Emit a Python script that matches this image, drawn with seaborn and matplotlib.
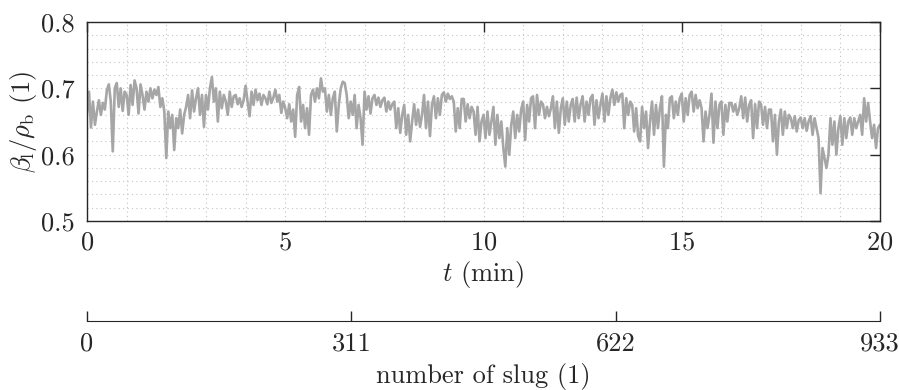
import numpy as np
import matplotlib
matplotlib.use("Agg")
import matplotlib.pyplot as plt
import seaborn as sns
import pandas as pd
from matplotlib.ticker import MultipleLocator

# beta_l / rho_b, ~0.05 min spacing
ratio_0_5 = [
    0.662, 0.695, 0.641, 0.680, 0.645,  0.665, 0.682, 0.660, 0.678, 0.668,
    0.697, 0.706, 0.680, 0.605, 0.700,  0.708, 0.672, 0.700, 0.666, 0.695,
    0.690, 0.660, 0.705, 0.675, 0.712,  0.700, 0.662, 0.706, 0.690, 0.668,
    0.695, 0.680, 0.700, 0.685, 0.698,  0.690, 0.702, 0.672, 0.685, 0.665,
    0.595, 0.665, 0.640, 0.660, 0.607,  0.655, 0.640, 0.668, 0.632, 0.660,
    0.672, 0.690, 0.655, 0.697, 0.665,  0.685, 0.700, 0.660, 0.690, 0.642,
    0.690, 0.668, 0.700, 0.717, 0.680,  0.700, 0.650, 0.695, 0.670, 0.690,
    0.680, 0.660, 0.695, 0.672, 0.688,  0.690, 0.676, 0.685, 0.672, 0.682,
    0.704, 0.680, 0.658, 0.695, 0.675,  0.698, 0.682, 0.692, 0.675, 0.690,
    0.685, 0.676, 0.695, 0.678, 0.686,  0.698, 0.680, 0.690, 0.663, 0.680,
]
ratio_5_10 = [
    0.670, 0.655, 0.676, 0.650, 0.668,  0.627, 0.690, 0.702, 0.650, 0.675,
    0.640, 0.670, 0.630, 0.690, 0.698,  0.680, 0.700, 0.685, 0.715, 0.695,
    0.700, 0.665, 0.690, 0.660, 0.685,  0.695, 0.635, 0.675, 0.700, 0.710,
    0.708, 0.690, 0.655, 0.680, 0.660,  0.690, 0.640, 0.675, 0.655, 0.615,
    0.695, 0.668, 0.688, 0.662, 0.685,  0.690, 0.675, 0.686, 0.672, 0.682,
    0.686, 0.665, 0.680, 0.668, 0.676,  0.680, 0.640, 0.670, 0.633, 0.660,
    0.675, 0.630, 0.660, 0.620, 0.650,  0.676, 0.645, 0.668, 0.642, 0.660,
    0.690, 0.640, 0.680, 0.628, 0.675,  0.688, 0.655, 0.685, 0.660, 0.690,
    0.694, 0.680, 0.692, 0.684, 0.688,  0.680, 0.635, 0.670, 0.640, 0.684,
    0.684, 0.650, 0.676, 0.655, 0.672,  0.665, 0.630, 0.672, 0.620, 0.650,
]
ratio_10_15 = [
    0.660, 0.625, 0.665, 0.630, 0.650,  0.672, 0.615, 0.660, 0.625, 0.650,
    0.610, 0.582, 0.640, 0.600, 0.645,  0.665, 0.625, 0.660, 0.635, 0.668,
    0.680, 0.622, 0.675, 0.650, 0.685,  0.688, 0.640, 0.690, 0.660, 0.680,
    0.676, 0.655, 0.672, 0.658, 0.670,  0.688, 0.640, 0.680, 0.633, 0.670,
    0.685, 0.645, 0.680, 0.650, 0.675,  0.684, 0.650, 0.686, 0.655, 0.676,
    0.688, 0.650, 0.680, 0.660, 0.685,  0.690, 0.645, 0.682, 0.655, 0.675,
    0.692, 0.650, 0.688, 0.660, 0.685,  0.698, 0.675, 0.694, 0.680, 0.690,
    0.692, 0.640, 0.685, 0.660, 0.680,  0.675, 0.635, 0.670, 0.628, 0.620,
    0.672, 0.640, 0.665, 0.610, 0.650,  0.680, 0.630, 0.675, 0.640, 0.670,
    0.688, 0.582, 0.660, 0.640, 0.685,  0.688, 0.655, 0.680, 0.660, 0.685,
]
ratio_15_20 = [
    0.692, 0.650, 0.685, 0.660, 0.690,  0.695, 0.665, 0.690, 0.670, 0.682,
    0.670, 0.620, 0.665, 0.640, 0.660,  0.692, 0.618, 0.680, 0.640, 0.675,
    0.680, 0.630, 0.675, 0.650, 0.678,  0.678, 0.665, 0.676, 0.660, 0.670,
    0.688, 0.655, 0.686, 0.650, 0.675,  0.682, 0.625, 0.676, 0.640, 0.680,
    0.676, 0.645, 0.672, 0.640, 0.668,  0.668, 0.620, 0.660, 0.600, 0.650,
    0.668, 0.630, 0.665, 0.640, 0.660,  0.655, 0.640, 0.658, 0.635, 0.652,
    0.656, 0.640, 0.655, 0.636, 0.650,  0.658, 0.630, 0.655, 0.640, 0.625,
    0.542, 0.610, 0.595, 0.580, 0.600,  0.655, 0.615, 0.650, 0.600, 0.640,
    0.658, 0.615, 0.655, 0.625, 0.650,  0.656, 0.630, 0.655, 0.640, 0.650,
    0.660, 0.630, 0.685, 0.650, 0.678,  0.650, 0.625, 0.645, 0.610, 0.640,
    0.645,
]

t_max = 20.0
n_slugs = 933
x_ticks = [0, 5, 10, 15, 20]
y_ticks = [0.5, 0.6, 0.7, 0.8]
slug_ticks = [0, 311, 622, 933]

ratio = np.array(ratio_0_5 + ratio_5_10 + ratio_10_15 + ratio_15_20)
t = np.linspace(0, t_max, len(ratio))
df = pd.DataFrame({"t": t, "ratio": ratio})

sns.set_style("white")
plt.rcParams["font.family"] = "serif"
plt.rcParams["font.serif"] = ["cmr10"]
plt.rcParams["mathtext.fontset"] = "cm"
plt.rcParams["axes.formatter.use_mathtext"] = True

fs = 19
fig = plt.figure(figsize=(8.99, 3.90), dpi=100)
ax = fig.add_axes([87 / 899, 1 - 221 / 390, (880 - 87) / 899, 199 / 390])

sns.lineplot(data=df, x="t", y="ratio", ax=ax, color="#a6a6a6", linewidth=1.9)

ax.set_xlim(0, t_max)
ax.set_ylim(0.5, 0.8)
ax.set_xticks(x_ticks)
ax.set_yticks(y_ticks)
ax.set_yticklabels([f"{v:.1f}" for v in y_ticks])
ax.xaxis.set_minor_locator(MultipleLocator(1))
ax.yaxis.set_minor_locator(MultipleLocator(0.02))
ax.grid(True, which="both", linestyle=(0, (1, 3)), color="#c4c4c4", linewidth=0.8)
ax.tick_params(which="major", direction="in", length=7, width=1, top=True, right=True,
               colors="#262626", labelsize=fs, pad=7)
ax.tick_params(axis="y", which="major", pad=9)
ax.tick_params(which="minor", length=0)
for s in ax.spines.values():
    s.set_color("#262626")
    s.set_linewidth(1.0)
ax.set_xlabel(r"$t$ (min)", fontsize=fs, labelpad=3)
ax.set_ylabel(r"$\beta_\mathrm{l}/\rho_\mathrm{b}$ (1)", fontsize=fs, labelpad=1)

sec = ax.secondary_xaxis(-100 / 199, functions=(lambda x: x * n_slugs / t_max,
                                                 lambda s: s * t_max / n_slugs))
sec.set_xticks(slug_ticks)
sec.set_xticklabels([str(s) for s in slug_ticks])
sec.tick_params(direction="in", length=7, width=1, colors="#262626", labelsize=fs, pad=8)
sec.spines["bottom"].set_color("#262626")
sec.set_xlabel("number of slug (1)", fontsize=fs, labelpad=5)

fig.savefig("out.png", dpi=100)
